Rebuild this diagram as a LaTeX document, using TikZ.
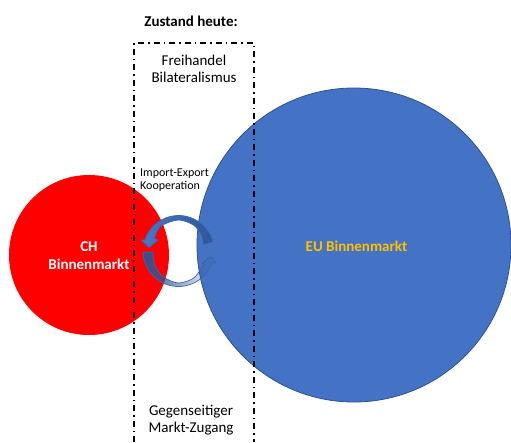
\documentclass[tikz,border=0pt]{standalone}
\usepackage{fontspec}
\setmainfont{Carlito}
\usetikzlibrary{fadings}
\definecolor{chred}{HTML}{FF0000}
\definecolor{eublue}{HTML}{4472C4}
\definecolor{eurim}{HTML}{2F528F}
\definecolor{arrowdark}{HTML}{2F5597}
\definecolor{arrowmid}{HTML}{4A78C6}
\definecolor{arrowline}{HTML}{3A66AE}
\definecolor{gold}{HTML}{FFC000}
% opaque on the left, fading out towards the right
\tikzfading[name=fadeeast, left color=transparent!0, middle color=transparent!20, right color=transparent!100]

\begin{document}
\begin{tikzpicture}[x=1pt,y=-1pt,
  lbl/.style={font=\fontsize{15}{18}\selectfont, inner sep=0pt, anchor=base},
  boldlbl/.style={lbl, font=\fontsize{15}{18}\selectfont\bfseries},
  smalllbl/.style={font=\fontsize{12}{14}\selectfont, inner sep=0pt, anchor=base west},
  frame/.style={line width=1.8pt, dash pattern=on 6pt off 4pt on 1.5pt off 4pt},
  arcline/.style={draw=arrowline, line width=0.7pt}
]
\useasboundingbox (0,0) rectangle (511,442);
\fill[white] (0,0) rectangle (511,442);

% the two markets
\fill[chred] (89,255) circle[radius=80pt];
\filldraw[fill=eublue, draw=eurim, line width=0.8pt] (354,245) circle[radius=157pt];

% exchange arrows between the markets
\begin{scope}[shift={(178.5,251)}, yscale=-1]
  % upper arrow, running over the top towards the left
  \shade[left color=arrowmid, right color=arrowdark, arcline]
    (15:35.5) arc[start angle=15, end angle=162, radius=35.5]
    -- (-37.5,11) -- (-29.5,3.5) -- (-20.5,11)
    -- plot[smooth] coordinates {(152:27.5) (125:30.5) (90:31) (60:30) (35:28) (15:26)}
    -- cycle;
  % lower arrow, running under the bottom towards the right
  \fill[arrowdark, path fading=fadeeast]
    (182:35.5) arc[start angle=182, end angle=340, radius=35.5]
    -- (37.5,-12) -- (32.5,-6) -- (23.2,-12)
    -- plot[smooth] coordinates {(333:28.5) (300:31) (270:32) (240:30) (210:27.5) (182:25.5)}
    -- cycle;
  \draw[arcline]
    (182:35.5) arc[start angle=182, end angle=340, radius=35.5]
    -- (37.5,-12) -- (32.5,-6) -- (23.2,-12)
    -- plot[smooth] coordinates {(333:28.5) (300:31) (270:32) (240:30) (210:27.5) (182:25.5)}
    -- cycle;
\end{scope}

% dash-dotted frame of today's state
\draw[frame] (134,442) -- (134,43) -- (254,43) -- (254,442);

% labels
\node[boldlbl] (zustand) at (191,26) {Zustand heute:};
\node[lbl] (frei) at (194,65) {Freihandel};
\node[lbl] (bilat) at (194,82) {Bilateralismus};
\node[lbl] (gegen) at (191,415) {Gegenseitiger};
\node[lbl] (zugang) at (191,432.5) {Markt-Zugang};
\node[smalllbl] (imp) at (140,176) {Import-Export};
\node[smalllbl] (koop) at (140,189.5) {Kooperation};
\node[boldlbl, text=white] (ch) at (89,251.7) {CH};
\node[boldlbl, text=white] (chbin) at (89,269.5) {Binnenmarkt};
\node[boldlbl, text=gold] (eu) at (356.5,251.7) {EU Binnenmarkt};
\end{tikzpicture}
\end{document}
